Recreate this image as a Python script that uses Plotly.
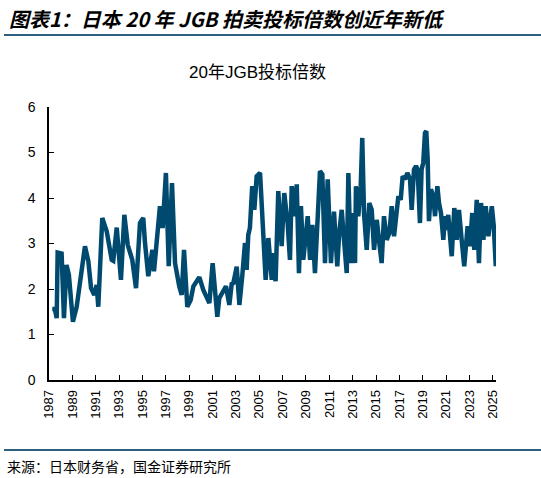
import plotly.graph_objects as go

# 20年JGB投标倍数
years = [
    1987.28, 1987.50, 1987.66, 1987.74, 1988.08, 1988.28, 1988.50, 1988.70, 1989.05, 1989.37,
    1990.08, 1990.37, 1990.60, 1990.88, 1991.08, 1991.22, 1991.56, 1991.94, 1992.37, 1992.50,
    1992.80, 1993.16, 1993.45, 1993.74, 1994.13, 1994.45, 1994.79, 1995.07, 1995.22, 1995.50,
    1995.85, 1995.99, 1996.50, 1996.73, 1997.01, 1997.25, 1997.53, 1997.79, 1998.15, 1998.36,
    1998.56, 1998.84, 1999.13, 1999.36, 1999.87, 2000.21, 2000.73, 2001.01, 2001.41, 2001.58,
    2002.15, 2002.44, 2002.64, 2002.78, 2003.07, 2003.30, 2003.55, 2003.78, 2003.92, 2004.06,
    2004.20, 2004.40, 2004.58, 2004.78, 2005.07, 2005.35, 2005.55, 2005.78, 2006.07, 2006.20,
    2006.40, 2006.63, 2006.92, 2007.14, 2007.43, 2007.63, 2007.78, 2008.00, 2008.21, 2008.40,
    2008.57, 2008.77, 2008.98, 2009.15, 2009.35, 2009.55, 2009.77, 2010.00, 2010.20, 2010.40,
    2010.63, 2010.86, 2011.14, 2011.40, 2011.68, 2011.85, 2012.06, 2012.26, 2012.49, 2012.63,
    2012.83, 2013.00, 2013.20, 2013.28, 2013.48, 2013.69, 2013.82, 2013.97, 2014.20, 2014.42,
    2014.63, 2014.83, 2015.06, 2015.28, 2015.48, 2015.68, 2015.91, 2016.14, 2016.34, 2016.54,
    2016.77, 2016.91, 2017.11, 2017.28, 2017.48, 2017.68, 2017.91, 2018.05, 2018.25, 2018.42,
    2018.56, 2018.76, 2018.90, 2019.04, 2019.19, 2019.30, 2019.42, 2019.53, 2019.70, 2019.90,
    2020.05, 2020.25, 2020.39, 2020.56, 2020.76, 2020.90, 2021.05, 2021.18, 2021.48, 2021.70,
    2021.90, 2022.10, 2022.33, 2022.55, 2022.84, 2023.04, 2023.24, 2023.41, 2023.62, 2023.81,
    2023.99, 2024.19, 2024.39, 2024.62, 2024.91, 2025.08, 2025.25,
]
bid_cover = [
    1.56, 1.56, 1.36, 2.80, 2.78, 1.36, 2.53, 2.31, 1.28, 1.61,
    2.94, 2.61, 2.02, 1.87, 2.09, 1.61, 3.56, 3.27, 2.64, 2.62,
    3.35, 2.20, 3.63, 2.97, 2.64, 2.02, 3.45, 3.56, 3.01, 2.28,
    2.86, 2.39, 3.82, 3.34, 4.55, 2.50, 4.33, 2.57, 2.06, 1.87,
    2.86, 1.61, 1.76, 2.06, 2.26, 1.98, 1.69, 2.57, 1.39, 1.80,
    2.06, 1.65, 2.11, 2.13, 2.49, 1.65, 2.30, 3.01, 2.42, 3.19,
    3.34, 4.26, 3.74, 4.48, 4.55, 3.16, 2.20, 3.12, 2.20, 2.79,
    2.17, 4.15, 2.94, 4.11, 3.45, 2.64, 4.26, 3.60, 4.30, 2.35,
    3.82, 2.64, 3.19, 3.60, 2.64, 3.41, 2.35, 3.63, 4.59, 4.52,
    2.57, 4.41, 2.57, 3.70, 2.50, 3.23, 3.74, 3.08, 2.35, 4.55,
    2.57, 3.67, 2.57, 4.26, 3.60, 4.26, 5.32, 3.67, 2.86, 3.89,
    3.74, 2.86, 3.52, 3.01, 2.57, 3.60, 3.08, 3.23, 3.82, 3.16,
    3.67, 4.04, 3.96, 4.48, 4.41, 4.55, 4.41, 3.74, 4.63, 4.70,
    4.63, 3.45, 4.63, 4.77, 5.43, 5.47, 4.85, 3.49, 4.19, 4.04,
    3.60, 4.26, 3.89, 3.67, 3.08, 3.60, 3.30, 3.63, 2.72, 3.78,
    3.08, 3.74, 3.08, 2.50, 3.38, 2.94, 3.67, 2.86, 3.96, 2.57,
    3.89, 3.08, 3.82, 3.16, 3.82, 3.38, 2.50,
]
tick_years = list(range(1987, 2026, 2))
y_ticks = [0, 1, 2, 3, 4, 5, 6]

W, H = 541, 478
L, R, T, B = 49, 45, 107, 98
pw, ph = W - L - R, H - T - B

def px(x):
    return (x - L) / pw

def py(y):
    return (H - B - y) / ph

blue = "#2C5F7C"
line_col = "#004A70"

fig = go.Figure(
    go.Scatter(
        x=years, y=bid_cover, mode="lines",
        line=dict(color=line_col, width=4.5),
        hoverinfo="x+y",
    )
)

fig.update_layout(
    width=W, height=H,
    margin=dict(l=L, r=R, t=T, b=B),
    paper_bgcolor="white", plot_bgcolor="white",
    showlegend=False,
    font=dict(family="Liberation Sans, Arial, sans-serif", color="black"),
    xaxis=dict(
        range=[1987, 2025.27], tickvals=tick_years,
        ticktext=[str(y) for y in tick_years],
        tickangle=-90, tickfont=dict(size=13),
        ticks="inside", ticklen=5, tickcolor="black",
        ticklabelstandoff=3,
        showline=True, linecolor="black", linewidth=1.5,
        showgrid=False, zeroline=False,
    ),
    yaxis=dict(
        range=[0, 6], tickvals=y_ticks,
        tickfont=dict(size=14),
        ticks="inside", ticklen=5, tickcolor="black",
        ticklabelstandoff=9,
        showline=True, linecolor="black", linewidth=1.5,
        showgrid=False, zeroline=False,
    ),
    shapes=[
        dict(type="line", xref="paper", yref="paper",
             x0=px(4), x1=px(541), y0=py(35), y1=py(35),
             line=dict(color=blue, width=2)),
        dict(type="line", xref="paper", yref="paper",
             x0=px(4), x1=px(541), y0=py(450), y1=py(450),
             line=dict(color=blue, width=2)),
    ],
    annotations=[
        dict(text="图表1：日本 20 年 JGB 拍卖投标倍数创近年新低",
             xref="paper", yref="paper", x=px(7), y=py(18),
             xanchor="left", yanchor="middle", showarrow=False,
             font=dict(family="Noto Sans CJK SC", size=20, weight="bold",
                       style="italic", color="black")),
        dict(text="20年JGB投标倍数",
             xref="paper", yref="paper", x=px(257), y=py(72),
             xanchor="center", yanchor="middle", showarrow=False,
             font=dict(family="Liberation Sans, Noto Sans CJK SC", size=17)),
        dict(text="来源：日本财务省，国金证券研究所",
             xref="paper", yref="paper", x=px(5), y=py(466),
             xanchor="left", yanchor="middle", showarrow=False,
             font=dict(family="Noto Sans CJK SC", size=14)),
    ],
)

# drop the page's default body margin so the figure sits at the window's top-left
fig.write_html("out.html", config={"displayModeBar": False},
               post_script="document.body.style.margin='0';")
